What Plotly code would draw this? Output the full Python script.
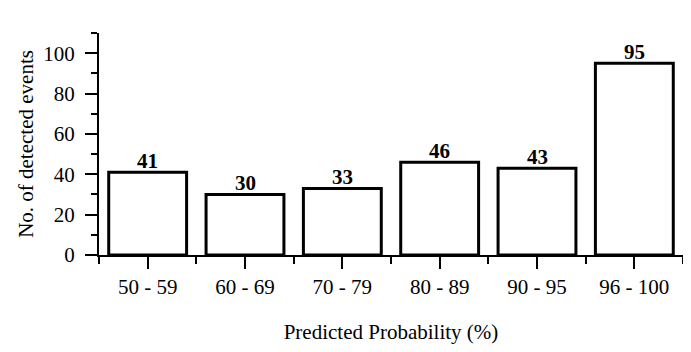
import plotly.graph_objects as go

categories = ['50 - 59', '60 - 69', '70 - 79', '80 - 89', '90 - 95', '96 - 100']
events = [41, 30, 33, 46, 43, 95]

positions = list(range(len(categories)))

fig = go.Figure(go.Bar(
    x=positions, y=events, width=0.8,
    marker=dict(color='white', line=dict(color='black', width=3)),
    cliponaxis=False,
))

# value labels sit just above each bar
for xp, v in zip(positions, events):
    fig.add_annotation(x=xp, y=v, text=str(v), showarrow=False,
                       yanchor='bottom', yshift=-3,
                       font=dict(family='Liberation Serif', size=21,
                                 color='black', weight='bold'))

axis_common = dict(
    showline=True, linecolor='black', linewidth=2,
    ticks='outside', ticklen=12, tickwidth=2, tickcolor='black',
    showgrid=False, zeroline=False, automargin=False,
    tickfont=dict(family='Liberation Serif', size=21, color='black'),
    title_font=dict(family='Liberation Serif', size=21, color='black'),
)

fig.update_xaxes(
    **axis_common,
    range=[-0.5, len(categories) - 0.5],
    tickvals=positions, ticktext=categories,
    minor=dict(tick0=-0.5, dtick=1, ticks='outside', ticklen=7,
               tickwidth=2, tickcolor='black'),
    ticklabelstandoff=0,
    title_text='Predicted Probability (%)', title_standoff=40,
)
fig.update_yaxes(
    **axis_common,
    range=[0, 110], tickvals=[0, 20, 40, 60, 80, 100],
    minor=dict(tick0=0, dtick=10, ticks='outside', ticklen=6,
               tickwidth=2, tickcolor='black'),
    ticklabelstandoff=6,
    title_text='No. of detected events', title_standoff=4,
)

# page body has an 8px margin, so the figure is sized to fit inside it
fig.update_layout(
    width=675, height=336,
    margin=dict(l=91, r=0, t=25, b=89),
    plot_bgcolor='white', paper_bgcolor='white',
    showlegend=False,
)

fig.write_html("out.html")
